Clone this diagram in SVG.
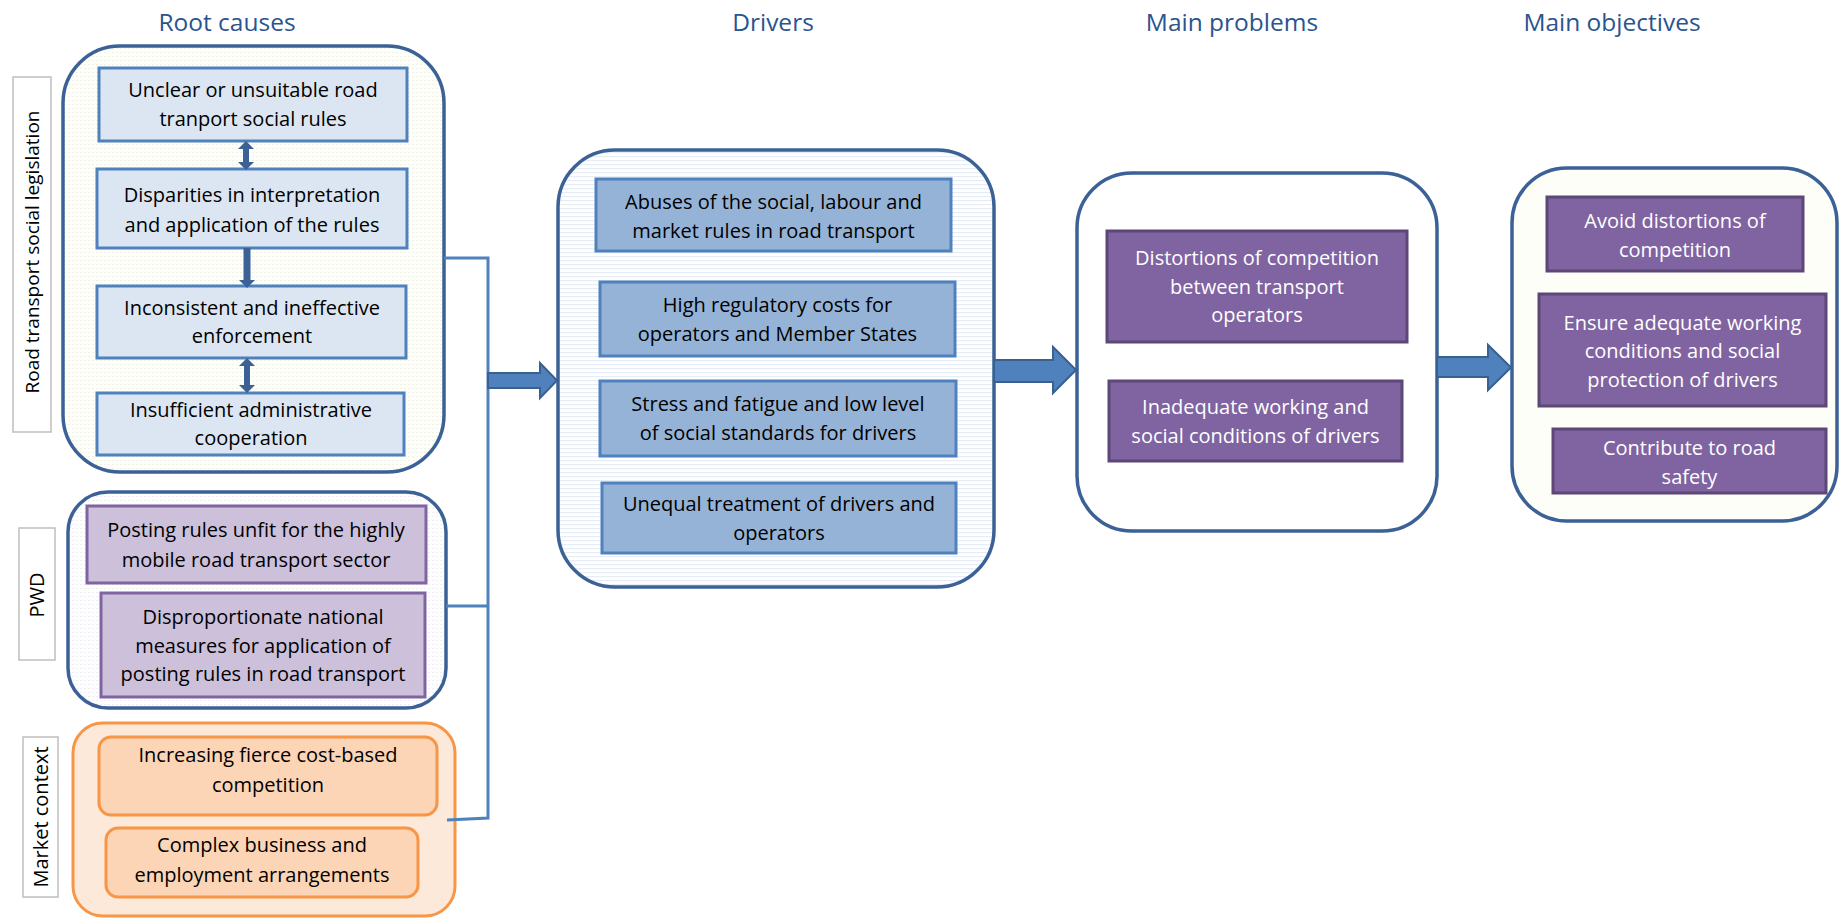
<svg xmlns="http://www.w3.org/2000/svg" width="1839" height="918" viewBox="0 0 1839 918">
<defs>
<pattern id="dots" width="4" height="4" patternUnits="userSpaceOnUse">
<rect width="4" height="4" fill="#FEFEFB"/>
<rect x="0" y="0" width="2" height="1" fill="#F1F2E6"/>
</pattern>
<pattern id="dotsg" width="4" height="4" patternUnits="userSpaceOnUse">
<rect width="4" height="4" fill="#FEFEFF"/>
<rect x="0" y="0" width="2" height="1" fill="#EEEFF4"/>
</pattern>
<pattern id="stripes" width="4" height="4" patternUnits="userSpaceOnUse">
<rect width="4" height="4" fill="#FFFFFF"/>
<rect x="0" y="0" width="4" height="1.2" fill="#E6EDF6"/>
</pattern>
<style>
text{font-family:"Open Sans","Liberation Sans",Arial,sans-serif;}
.title{font-size:24.5px;fill:#2A5490;text-anchor:middle;}
.t{font-size:20px;fill:#000;text-anchor:middle;}
.w{font-size:20px;fill:#FFFFFF;text-anchor:middle;}
.side{font-size:20px;fill:#000;text-anchor:middle;}
.lab{fill:#FFFFFF;stroke:#BFBFBF;stroke-width:1.5;}
.group{stroke:#3B6196;stroke-width:3.5;}
.blue{fill:#DCE6F2;stroke:#4F81BD;stroke-width:3;}
.lilac{fill:#CCC0DA;stroke:#8064A2;stroke-width:3;}
.orange{fill:#FBD5B5;stroke:#F79646;stroke-width:3;}
.mid{fill:#95B3D7;stroke:#4F81BD;stroke-width:3;}
.purple{fill:#8064A2;stroke:#5C4776;stroke-width:3;}
.line{fill:none;stroke:#4F81BD;stroke-width:3;}
.barrow{fill:#4F81BD;stroke:#3A6090;stroke-width:2;}
.varrow{fill:#3B6196;}
</style>
</defs>

<g id="titles">
<text class="title" x="227" y="31">Root causes</text>
<text class="title" x="773" y="31">Drivers</text>
<text class="title" x="1232" y="31">Main problems</text>
<text class="title" x="1612" y="31">Main objectives</text>
</g>

<g id="label-legislation">
<rect class="lab" x="13" y="77" width="38" height="355"/>
<text class="side" style="font-size:19px" transform="translate(39,252) rotate(-90)">Road transport social legislation</text>
</g>
<g id="label-pwd">
<rect class="lab" x="19" y="528" width="36" height="132"/>
<text class="side" transform="translate(44,595) rotate(-90)">PWD</text>
</g>
<g id="label-market">
<rect class="lab" x="23" y="737" width="35" height="160"/>
<text class="side" transform="translate(48,817) rotate(-90)">Market context</text>
</g>

<g id="root-causes-group">
<rect class="group" x="63" y="46" width="381" height="426" rx="57" fill="url(#dots)"/>
</g>
<g id="root1">
<rect class="blue" x="99" y="68" width="308" height="73"/>
<text class="t" x="253" y="97">Unclear or unsuitable road</text>
<text class="t" x="253" y="126">tranport social rules</text>
</g>
<g id="root2">
<rect class="blue" x="97" y="169" width="310" height="79"/>
<text class="t" x="252" y="202">Disparities in interpretation</text>
<text class="t" x="252" y="232">and application of the rules</text>
</g>
<g id="root3">
<rect class="blue" x="97" y="286" width="309" height="72"/>
<text class="t" x="252" y="315">Inconsistent and ineffective</text>
<text class="t" x="252" y="343">enforcement</text>
</g>
<g id="root4">
<rect class="blue" x="97" y="393" width="307" height="62"/>
<text class="t" x="251" y="417">Insufficient administrative</text>
<text class="t" x="251" y="445">cooperation</text>
</g>

<g id="pwd-group">
<rect class="group" x="68" y="492" width="378" height="216" rx="40" fill="url(#dotsg)"/>
</g>
<g id="pwd1">
<rect class="lilac" x="87" y="506" width="339" height="77"/>
<text class="t" x="256" y="537">Posting rules unfit for the highly</text>
<text class="t" x="256" y="567">mobile road transport sector</text>
</g>
<g id="pwd2">
<rect class="lilac" x="101" y="593" width="324" height="104"/>
<text class="t" x="263" y="624">Disproportionate national</text>
<text class="t" x="263" y="653">measures for application of</text>
<text class="t" x="263" y="681">posting rules in road transport</text>
</g>

<g id="market-group">
<rect x="73" y="723" width="382" height="193" rx="30" fill="#FDE9D9" stroke="#F79646" stroke-width="3"/>
</g>
<g id="market1">
<rect class="orange" x="99" y="737" width="338" height="78" rx="12"/>
<text class="t" x="268" y="762">Increasing fierce cost-based</text>
<text class="t" x="268" y="792">competition</text>
</g>
<g id="market2">
<rect class="orange" x="106" y="828" width="312" height="69" rx="12"/>
<text class="t" x="262" y="852">Complex business and</text>
<text class="t" x="262" y="882">employment arrangements</text>
</g>

<g id="drivers-group">
<rect class="group" x="558" y="150" width="436" height="437" rx="57" fill="url(#stripes)"/>
</g>
<g id="driver1">
<rect class="mid" x="596" y="179" width="355" height="72"/>
<text class="t" x="773.5" y="209">Abuses of the social, labour and</text>
<text class="t" x="773.5" y="238">market rules in road transport</text>
</g>
<g id="driver2">
<rect class="mid" x="600" y="282" width="355" height="74"/>
<text class="t" x="777.5" y="312">High regulatory costs for</text>
<text class="t" x="777.5" y="341">operators and Member States</text>
</g>
<g id="driver3">
<rect class="mid" x="600" y="381" width="356" height="75"/>
<text class="t" x="778" y="411">Stress and fatigue and low level</text>
<text class="t" x="778" y="440">of social standards for drivers</text>
</g>
<g id="driver4">
<rect class="mid" x="602" y="483" width="354" height="70"/>
<text class="t" x="779" y="511">Unequal treatment of drivers and</text>
<text class="t" x="779" y="540">operators</text>
</g>

<g id="problems-group">
<rect class="group" x="1077" y="173" width="360" height="358" rx="55" fill="#FFFFFF"/>
</g>
<g id="problem1">
<rect class="purple" x="1107" y="231" width="300" height="111"/>
<text class="w" x="1257" y="265">Distortions of competition</text>
<text class="w" x="1257" y="294">between transport</text>
<text class="w" x="1257" y="322">operators</text>
</g>
<g id="problem2">
<rect class="purple" x="1109" y="381" width="293" height="80"/>
<text class="w" x="1255.5" y="414">Inadequate working and</text>
<text class="w" x="1255.5" y="443">social conditions of drivers</text>
</g>

<g id="objectives-group">
<rect class="group" x="1512" y="168" width="325" height="353" rx="55" fill="#FEFEF9"/>
</g>
<g id="objective1">
<rect class="purple" x="1547" y="197" width="256" height="74"/>
<text class="w" x="1675" y="228">Avoid distortions of</text>
<text class="w" x="1675" y="257">competition</text>
</g>
<g id="objective2">
<rect class="purple" x="1539" y="294" width="287" height="112"/>
<text class="w" x="1682.5" y="330">Ensure adequate working</text>
<text class="w" x="1682.5" y="358">conditions and social</text>
<text class="w" x="1682.5" y="387">protection of drivers</text>
</g>
<g id="objective3">
<rect class="purple" x="1553" y="429" width="273" height="64"/>
<text class="w" x="1689.5" y="455">Contribute to road</text>
<text class="w" x="1689.5" y="484">safety</text>
</g>

<g id="connectors">
<polyline class="line" points="444,258 488,258 488,818 447,820"/>
<line class="line" x1="446" y1="606" x2="488" y2="606"/>
<polygon class="varrow" points="246,141 254,149 249,149 249,162 254,162 246,170 238,162 243,162 243,149 238,149"/>
<polygon class="varrow" points="243.5,248 250.5,248 250.5,280 255,280 247,288 239,280 243.5,280"/>
<polygon class="varrow" points="247,358 255,366 250,366 250,385 255,385 247,393 239,385 244,385 244,366 239,366"/>
<polygon class="barrow" points="488,373 540,373 540,363 557,380.5 540,398 540,388 488,388"/>
<polygon class="barrow" points="994,360 1053,360 1053,347 1076,370 1053,393 1053,382 994,382"/>
<polygon class="barrow" points="1437,357 1488,357 1488,345 1511,367.5 1488,390 1488,377 1437,377"/>
</g>
</svg>
